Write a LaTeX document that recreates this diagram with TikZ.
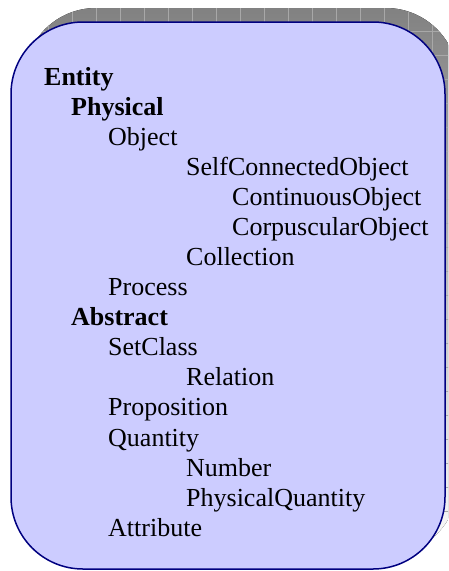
\documentclass[tikz,border=0pt]{standalone}
\usepackage{fontspec}
\setmainfont{Liberation Serif}
\begin{document}
\begin{tikzpicture}[x=1pt,y=-1pt,
  panel/.style={rounded corners=72pt},
  item/.style={anchor=base west,inner sep=0pt,font=\fontsize{26}{30}\selectfont},
  head/.style={item,font=\fontsize{26}{30}\selectfont\bfseries}]
\definecolor{panelfill}{RGB}{204,204,255}
\definecolor{panelline}{RGB}{0,0,128}
\definecolor{shade}{RGB}{198,198,198}
\definecolor{shadegrid}{RGB}{168,168,168}
\useasboundingbox (0,0) rectangle (448,571);
\clip (0,0) rectangle (448,571);
% offset backdrop with a grid
\begin{scope}
  \clip[panel] (24,8) rectangle (458,555);
  \fill[shade] (0,0) rectangle (470,571);
  \foreach \gx in {0,...,19} \draw[shadegrid,line width=0.8pt] (0.7+24*\gx,0) -- (0.7+24*\gx,571);
  \foreach \gy in {0,...,23} \draw[shadegrid,line width=0.8pt] (0,7+24*\gy) -- (470,7+24*\gy);
\end{scope}
% main panel
\draw[panel,fill=panelfill,draw=panelline,line width=1.5pt] (11,22) rectangle (445,569);
% hierarchy
\node[head] (entity)   at (44,85)  {Entity};
\node[head] (physical) at (71,115) {Physical};
\node[item] (object)   at (108,145) {Object};
\node[item] (selfconn) at (186,175) {SelfConnectedObject};
\node[item] (contin)   at (232,205) {ContinuousObject};
\node[item] (corpusc)  at (232,235) {CorpuscularObject};
\node[item] (collect)  at (186,265) {Collection};
\node[item] (process)  at (108,295) {Process};
\node[head] (abstract) at (71,325) {Abstract};
\node[item] (setclass) at (108,355) {SetClass};
\node[item] (relation) at (186,385) {Relation};
\node[item] (propos)   at (108,415) {Proposition};
\node[item] (quantity) at (108,446) {Quantity};
\node[item] (number)   at (186,476) {Number};
\node[item] (physq)    at (186,506) {PhysicalQuantity};
\node[item] (attrib)   at (108,536) {Attribute};
\end{tikzpicture}
\end{document}
